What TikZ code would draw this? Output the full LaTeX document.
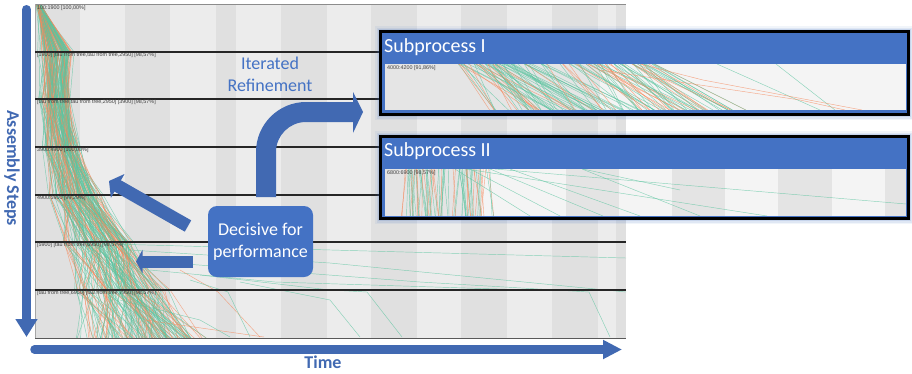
\documentclass[tikz,border=0pt]{standalone}
\usepackage{fontspec}
\setmainfont{Carlito}
\newfontfamily\labfont{Liberation Sans}
\usetikzlibrary{arrows.meta}
\definecolor{obl}{HTML}{4472C4}
\definecolor{abl}{HTML}{4169B2}
\definecolor{tg}{HTML}{5CC5A0}
\definecolor{to}{HTML}{F5895C}
\definecolor{lg}{HTML}{ECECEC}
\definecolor{dg}{HTML}{E0E0E0}
\begin{document}
\begin{tikzpicture}[x=1pt,y=-1pt,
  lab/.style={font=\labfont\fontsize{5.4}{6}\selectfont, text=black!75, anchor=west, inner sep=0pt},
  trace/.style={line width=0.45pt, opacity=0.7},
  bigtext/.style={font=\fontsize{18}{22}\selectfont, text=obl, align=center},
  axislab/.style={font=\bfseries\fontsize{18}{22}\selectfont, text=abl},
  sptitle/.style={font=\fontsize{20}{24}\selectfont, text=white, anchor=west, inner sep=0pt},
  glow/.style={obl, line width=#1}]
\useasboundingbox (0,0) rectangle (912,373);
\fill[white] (0,0) rectangle (912,373);

% ---------- main chart background ----------
\fill[lg] (35,4) rectangle (626,338);
\foreach \a/\b in {36/80,125/170,216/236,281/327,371/417,461/507,552/598,616/626}
  \fill[dg] (\a,4) rectangle (\b,338);

% ---------- traces ----------
\begin{scope}
\clip (35,4) rectangle (626,338);
\pgfmathsetseed{1234}
\foreach \i in {1,...,150}{
  \pgfmathsetmacro{\u}{rnd}
  \pgfmathsetmacro{\xa}{36+5*rnd}
  \pgfmathsetmacro{\xb}{36+42*(0.6*\u+0.4*rnd)}
  \pgfmathsetmacro{\xc}{37+38*(0.6*\u+0.4*rnd)}
  \pgfmathsetmacro{\xd}{40+45*(0.6*\u+0.4*rnd)}
  \pgfmathsetmacro{\xe}{45+62*(0.6*\u+0.4*rnd)}
  \pgfmathsetmacro{\xf}{55+90*(0.6*\u+0.4*rnd)}
  \pgfmathsetmacro{\xg}{65+110*(0.6*\u+0.4*rnd)}
  \pgfmathsetmacro{\xh}{75+140*(0.6*\u+0.4*rnd)}
  \pgfmathtruncatemacro{\c}{rnd<0.35}
  \ifnum\c=1 \def\col{to}\else\def\col{tg}\fi
  \draw[trace, \col] (\xa,4) -- (\xb,52) -- (\xc,99) -- (\xd,147) -- (\xe,195)
     -- (\xf,242) -- (\xg,290) -- (\xh,338);
}
\draw[trace,tg] (110,244) -- (626,258);
\draw[trace,tg] (130,250) -- (330,263) -- (626,292);
\draw[trace,tg] (160,262) -- (420,282) -- (589,292) -- (610,337);
\draw[trace,tg] (200,275) -- (330,290) -- (367,292) -- (402,337);
\draw[trace,tg] (150,270) -- (275,282) -- (530,290);
\draw[trace,to] (145,320) -- (264,337);
\draw[trace,to] (180,270) -- (218,292) -- (260,337);
\draw[trace,tg] (190,280) -- (228,292) -- (250,337);
\draw[trace,tg] (240,282) -- (330,300) -- (360,337);
\draw[trace,tg] (120,300) -- (200,320) -- (230,337);
\end{scope}

% ---------- grid lines and labels ----------
\draw[black!45, line width=0.8pt] (35,4) -- (626,4);
\draw[black!35, line width=0.6pt] (35,4) -- (35,338);
\foreach \y in {52,99,147,195,242,290}
  \draw[black!85, line width=1.1pt] (35,\y) -- (626,\y);
\draw[black!65, line width=0.9pt] (35,338) -- (626,338);

\node[lab] (l1) at (37,8) {100:1900 [100,00\%]};
\node[lab] (l2) at (37,55.5) {[1900] [tau from tree,tau from tree,2950] [98,57\%]};
\node[lab] (l3) at (37,102.5) {[tau from tree,tau from tree,2950] [3900] [98,57\%]};
\node[lab] (l4) at (37,150.5) {3900:4900 [100,00\%]};
\node[lab] (l5) at (37,198.5) {4900:5900 [99,29\%]};
\node[lab] (l6) at (37,245.5) {[5900] [tau from tree,6950] [98,57\%]};
\node[lab] (l7) at (37,293.5) {[tau from tree,6950] [tau from tree,7950] [98,57\%]};

% ---------- Subprocess I ----------
\foreach \w/\o in {11/0.07,8/0.1,5/0.15}
  \draw[glow=\w pt, opacity=\o] (380.5,31.5) rectangle (908.5,114.5);
\fill[obl] (380.5,31.5) rectangle (908.5,114.5);
\fill[dg!60!lg] (385,64) rectangle (600,110);
\fill[lg!60!white] (600,64) rectangle (906,110);
\begin{scope}
\clip (385,64) rectangle (906,110);
\pgfmathsetseed{99}
\foreach \i in {1,...,130}{
  \pgfmathsetmacro{\xt}{458+200*rnd^1.2}
  \pgfmathsetmacro{\xb}{\xt+20+80*rnd}
  \pgfmathtruncatemacro{\c}{rnd<0.3}
  \ifnum\c=1 \def\col{to}\else\def\col{tg}\fi
  \draw[trace, \col] (\xt,64) -- (\xb,110);
}
\draw[trace,tg] (717,64) -- (820,110);
\draw[trace,tg] (776,64) -- (835,110);
\draw[trace,to] (640,64) -- (703,80) -- (862,110);
\draw[trace,to] (600,70) -- (800,100) -- (845,110);
\end{scope}
\draw[black, line width=3pt] (380.5,31.5) rectangle (908.5,114.5);
\node[sptitle] (sp1) at (384,47) {Subprocess I};
\node[lab] (sl1) at (387,68) {4000:4200 [91,86\%]};

% ---------- Subprocess II ----------
\foreach \w/\o in {11/0.07,8/0.1,5/0.15}
  \draw[glow=\w pt, opacity=\o] (380.5,136.5) rectangle (908.5,218.5);
\fill[obl] (380.5,136.5) rectangle (908.5,218.5);
\fill[lg!60!white] (385,169) rectangle (906,215.5);
\foreach \a/\b in {385/480,566/619,672/725,778/832,885/906}
  \fill[dg!70!lg] (\a,169) rectangle (\b,215.5);
\begin{scope}
\clip (385,169) rectangle (906,215.5);
\pgfmathsetseed{7}
\foreach \i in {1,...,70}{
  \pgfmathsetmacro{\xt}{405+85*rnd}
  \pgfmathsetmacro{\xb}{\xt-6+14*rnd}
  \pgfmathtruncatemacro{\c}{rnd<0.35}
  \ifnum\c=1 \def\col{to}\else\def\col{tg}\fi
  \draw[trace, \col] (\xt,169) -- (\xb,216);
}
\draw[trace,tg] (495,169) -- (906,204);
\draw[trace,tg] (582,169) -- (700,216);
\draw[trace,tg] (466,169) -- (767,216);
\draw[trace,tg] (490,169) -- (603,216);
\draw[trace,tg] (510,169) -- (640,216);
\draw[trace,tg] (470,169) -- (560,216);
\draw[trace,tg] (455,169) -- (530,216);
\draw[trace,tg] (583,169) -- (680,190);
\end{scope}
\draw[black, line width=3pt] (380.5,136.5) rectangle (908.5,218.5);
\node[sptitle] (sp2) at (384,151) {Subprocess II};
\node[lab] (sl2) at (387,173) {6800:6900 [98,57\%]};

% ---------- annotations ----------
\node[bigtext] (iter) at (270,74) {Iterated\\Refinement};

\node[rounded corners=9pt, fill=obl, text=white, minimum width=105pt,
      minimum height=71pt, align=center, inner sep=0pt,
      font=\fontsize{18}{22}\selectfont] (dec) at (260.5,241.5) {Decisive for\\performance};

% curved arrow
\fill[abl] (256,197) -- (256,152) arc[start angle=180, end angle=270, radius=50]
  -- (353,102) -- (353,92) -- (363,112) -- (353,133) -- (353,122) -- (306,122)
  arc[start angle=270, end angle=180, radius=30] -- (276,197) -- cycle;

% diagonal and left arrows
\coordinate (dt) at (188,226);
\coordinate (dp) at (109,181);
\draw[abl, line width=13pt, -{Triangle[length=10pt,width=27pt]}] (dt) -- (dp);
\coordinate (lt) at (193,261.5);
\coordinate (lp) at (136,261.5);
\draw[abl, line width=12pt, -{Triangle[length=6.5pt,width=23pt]}] (lt) -- (lp);

% axes arrows
\coordinate (vs) at (26.5,9.5);
\coordinate (ve) at (26.5,337);
\draw[abl, line width=9pt, line cap=round, -{Triangle[length=18pt,width=21pt]}] (vs) -- (ve);
\coordinate (hs) at (34.5,349.5);
\coordinate (he) at (622,349.5);
\draw[abl, line width=8.5pt, line cap=round, -{Triangle[length=19pt,width=18pt]}] (hs) -- (he);

\node[axislab, rotate=-90] (asm) at (12,168) {Assembly Steps};
\node[axislab] (time) at (323,362) {Time};
\end{tikzpicture}
\end{document}
